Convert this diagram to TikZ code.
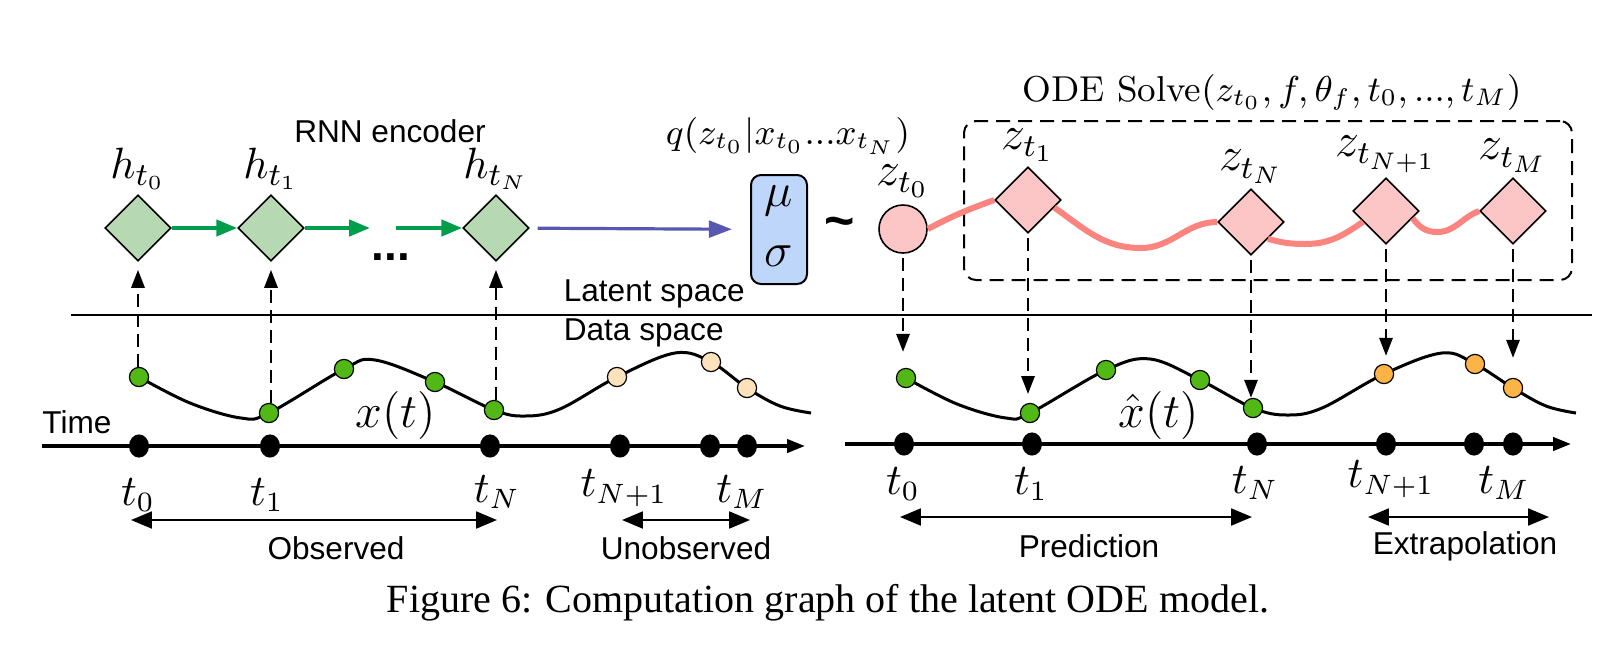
\documentclass[tikz,border=0pt]{standalone}
\usepackage{fontspec}
\setsansfont{Liberation Sans}
\newfontfamily\capfont{Liberation Serif}
\usetikzlibrary{shapes.geometric,arrows.meta}

\definecolor{encgreen}{RGB}{182,217,180}
\definecolor{arrgreen}{RGB}{0,158,76}
\definecolor{encblue}{RGB}{88,88,176}
\definecolor{musky}{RGB}{190,214,250}
\definecolor{latpink}{RGB}{253,198,198}
\definecolor{odered}{RGB}{252,132,126}
\definecolor{obsgreen}{RGB}{82,184,22}
\definecolor{peach}{RGB}{253,226,188}
\definecolor{extorange}{RGB}{253,180,70}

\tikzset{
  state/.style={diamond, draw, line width=0.4pt, minimum width=16.5pt, minimum height=16.5pt, inner sep=0pt},
  hstate/.style={state, fill=encgreen},
  zstate/.style={state, fill=latpink},
  zinit/.style={circle, draw, line width=0.4pt, fill=latpink, minimum size=12pt, inner sep=0pt},
  musig/.style={draw, line width=0.5pt, fill=musky, rounded corners=2.5pt, minimum width=14pt, minimum height=27.25pt, inner sep=0pt},
  sanslab/.style={font=\fontsize{7.9}{9.5}\selectfont\sffamily, inner sep=1pt},
  hlab/.style={anchor=south, inner sep=1pt, font=\fontsize{11}{13}\selectfont},
  zlab/.style={anchor=south, inner sep=1pt, font=\fontsize{12}{14}\selectfont},
  tlab/.style={font=\fontsize{10.5}{12}\selectfont},
  obsdot/.style={circle, draw, line width=0.3pt, fill=obsgreen, minimum size=4.8pt, inner sep=0pt},
  unobsdot/.style={obsdot, fill=peach},
  extdot/.style={obsdot, fill=extorange},
  tdot/.style={ellipse, fill=black, minimum width=5pt, minimum height=5.8pt, inner sep=0pt},
  dasharrow/.style={dash pattern=on 3.2pt off 1.8pt, line width=0.6pt, -{Triangle[length=4.5pt,width=3.3pt]}},
  rnnarrow/.style={arrgreen, line width=1pt, -{Triangle[length=5.2pt,width=4pt]}},
  encarrow/.style={encblue, line width=0.8pt, -{Triangle[length=5.8pt,width=4.2pt]}},
  spanarrow/.style={line width=0.6pt, {Triangle[length=5.2pt,width=4.2pt]}-{Triangle[length=5.2pt,width=4.2pt]}},
  timeaxis/.style={line width=0.9pt, -{Triangle[length=4.5pt,width=3.3pt]}},
  signal/.style={line width=0.75pt},
  odepath/.style={odered, line width=1.5pt},
}

\begin{document}
\begin{tikzpicture}[x=0.25pt, y=-0.25pt]
    \useasboundingbox (0,0) rectangle (1606,655);

    % Latent space / data space divide
    \draw[line width=0.7pt] (71,315) -- (1592,315);
    \node[sanslab, anchor=west] (latent) at (559,294) {Latent space};
    \node[sanslab, anchor=west] (data) at (559,333) {Data space};

    % RNN encoder
    \node[sanslab] (rnn) at (390,131) {RNN encoder};
    \node[hstate] (h0) at (138,228) {};
    \node[hstate] (h1) at (271,228) {};
    \node[hstate] (hN) at (496,228) {};
    \node[hlab] (lh0) at (h0.north) {$h_{t_0}$};
    \node[hlab] (lh1) at (h1.north) {$h_{t_1}$};
    \node[hlab] (lhN) at (hN.north) {$h_{t_N}$};
    \coordinate (gapL) at (370,228);
    \coordinate (gapR) at (396,228);
    \node[font=\fontsize{11.5}{12}\selectfont\sffamily\bfseries] (dots) at (391,257) {...};
    \draw[rnnarrow] (h0) -- (h1);
    \draw[rnnarrow] (h1) -- (gapL);
    \draw[rnnarrow] (gapR) -- (hN);

    % Approximate posterior
    \node[musig] (qbox) at (779,229.5) {};
    \node[font=\fontsize{12.5}{14}\selectfont] (mu) at (779,201) {$\mu$};
    \node[font=\fontsize{12.5}{14}\selectfont] (sigma) at (779,256) {$\sigma$};
    \node[font=\fontsize{9.2}{11}\selectfont, inner sep=1pt] (q) at (788,136) {$q(z_{t_0}|x_{t_0}...x_{t_N})$};
    \draw[encarrow, shorten <=2pt, shorten >=4.5pt] (hN) -- (qbox);
    \node[font=\fontsize{13}{13}\selectfont\sffamily\bfseries] (sim) at (840,228) {\textasciitilde};
    \node[zinit] (z0) at (903,229) {};
    \node[zlab, inner sep=1.5pt, font=\fontsize{11.5}{13}\selectfont] (lz0) at (z0.north) {$z_{t_0}$};

    % ODE solver
    \node[draw, dash pattern=on 3.5pt off 2pt, line width=0.5pt, rounded corners=3pt,
          minimum width=152pt, minimum height=39.75pt] (solver) at (1268,200.5) {};
    \node[font=\fontsize{9}{11}\selectfont] (ode) at (1272,92) {ODE Solve$(z_{t_0}, f, \theta_f, t_0, ..., t_M)$};
    \node[zstate] (z1) at (1028,200) {};
    \node[zstate] (zN) at (1251,222) {};
    \node[zstate] (zN1) at (1386,211) {};
    \node[zstate] (zM) at (1513,211) {};
    \node[zlab] (lz1) at (z1.north) {$z_{t_1}$};
    \node[zlab] (lzN) at (zN.north) {$z_{t_N}$};
    \node[zlab] (lzN1) at (zN1.north) {$z_{t_{N+1}}$};
    \node[zlab] (lzM) at (zM.north) {$z_{t_M}$};
    \draw[odepath] (z0.east) to[out=28,in=200] (z1.west);
    \draw[odepath] (z1.-16) to[out=-35,in=180] (1141,248) to[out=0,in=180] (zN.west);
    \draw[odepath] (zN.south east) to[out=-15,in=180] (1305,244) to[out=0,in=215] (zN1.205);
    \draw[odepath] (zN1.-15) to[out=-55,in=180] (1437,232) to[out=0,in=200] (zM.west);

    % Observed data x(t)
    \draw[signal] plot[smooth, tension=0.6] coordinates {(139,377) (190,403) (241,418) (269,413) (344,369) (375,360) (435,382) (494,410) (525,416) (560,409) (617,377) (675,353) (711,362) (747,388) (780,406) (811,413)};
    \node[obsdot] (d0) at (139,377) {};
    \node[obsdot] (d1) at (269,413) {};
    \node[obsdot] (da) at (344,369) {};
    \node[obsdot] (db) at (435,382) {};
    \node[obsdot] (dN) at (494,410) {};
    \node[unobsdot] (dN1) at (617,377) {};
    \node[unobsdot] (dc) at (711,362) {};
    \node[unobsdot] (dM) at (747,388) {};
    \node[font=\fontsize{12.5}{14}\selectfont, inner sep=1pt] (xt) at (396,415) {$x(t)$};
    \foreach \d/\h in {d0/h0, d1/h1, dN/hN}
        \draw[dasharrow, shorten >=2pt] (\h.south |- \d.north) -- (\h.south);

    % Decoded trajectory
    \draw[signal] plot[smooth, tension=0.6] coordinates {(906,378) (957,404) (1006,418) (1030,413) (1106,370) (1150,359) (1200,380) (1253,408) (1287,415) (1322,408) (1384,374) (1442,353) (1475,364) (1513,388) (1546,406) (1576,413)};
    \node[obsdot] (rd0) at (906,378) {};
    \node[obsdot] (rd1) at (1030,413) {};
    \node[obsdot] (rda) at (1106,370) {};
    \node[obsdot] (rdb) at (1200,380) {};
    \node[obsdot] (rdN) at (1253,408) {};
    \node[extdot] (rdN1) at (1384,374) {};
    \node[extdot] (rdc) at (1475,364) {};
    \node[extdot] (rdM) at (1513,388) {};
    \node[font=\fontsize{12.5}{14}\selectfont, inner sep=1pt] (xhat) at (1159,415) {$\hat{x}(t)$};
    \foreach \z/\d/\s in {z0/rd0/4pt, z1/rd1/2.2pt, zN/rdN/0pt, zN1/rdN1/2pt, zM/rdM/5pt}
        \draw[dasharrow, shorten <=1pt, shorten >=\s] (\z.south) -- (\z.south |- \d.north);

    % Time axes
    \node[sanslab] (time) at (77,422) {Time};
    \coordinate (axL0) at (42,446);
    \coordinate (axL1) at (805,446);
    \coordinate (axR0) at (845,444);
    \coordinate (axR1) at (1571,444);
    \draw[timeaxis] (axL0) -- (axL1);
    \draw[timeaxis] (axR0) -- (axR1);
    \foreach \n/\x in {a/139, b/270, c/490, d/620, e/710, f/747}
        \node[tdot] (tl\n) at (\x,446) {};
    \foreach \n/\x in {a/904, b/1032, c/1257, d/1386, e/1474, f/1513}
        \node[tdot] (tr\n) at (\x,444) {};
    \node[tlab] (lt0) at (138,495) {$t_0$};
    \node[tlab] (lt1) at (267,495) {$t_1$};
    \node[tlab] (ltN) at (497,492) {$t_N$};
    \node[tlab] (ltN1) at (624,488) {$t_{N+1}$};
    \node[tlab] (ltM) at (742,492) {$t_M$};
    \node[tlab] (rt0) at (903,484) {$t_0$};
    \node[tlab] (rt1) at (1031,484) {$t_1$};
    \node[tlab] (rtN) at (1255,483) {$t_N$};
    \node[tlab] (rtN1) at (1391,479) {$t_{N+1}$};
    \node[tlab] (rtM) at (1504,483) {$t_M$};

    % Spans
    \coordinate (obs0) at (131,520);
    \coordinate (obs1) at (497,520);
    \coordinate (uno0) at (622,520);
    \coordinate (uno1) at (750,520);
    \coordinate (pre0) at (900,517);
    \coordinate (pre1) at (1252,517);
    \coordinate (ext0) at (1368,517);
    \coordinate (ext1) at (1549,517);
    \draw[spanarrow] (obs0) -- (obs1);
    \draw[spanarrow] (uno0) -- (uno1);
    \draw[spanarrow] (pre0) -- (pre1);
    \draw[spanarrow] (ext0) -- (ext1);
    \node[sanslab] (observed) at (336,548) {Observed};
    \node[sanslab] (unobserved) at (686,548) {Unobserved};
    \node[sanslab] (prediction) at (1089,546) {Prediction};
    \node[sanslab] (extrap) at (1465,546) {Extrapolation};

    % Caption
    \node[font=\capfont\fontsize{10}{12}\selectfont, anchor=base] (caption) at (828,612) {Figure 6: Computation graph of the latent ODE model.};
\end{tikzpicture}
\end{document}
